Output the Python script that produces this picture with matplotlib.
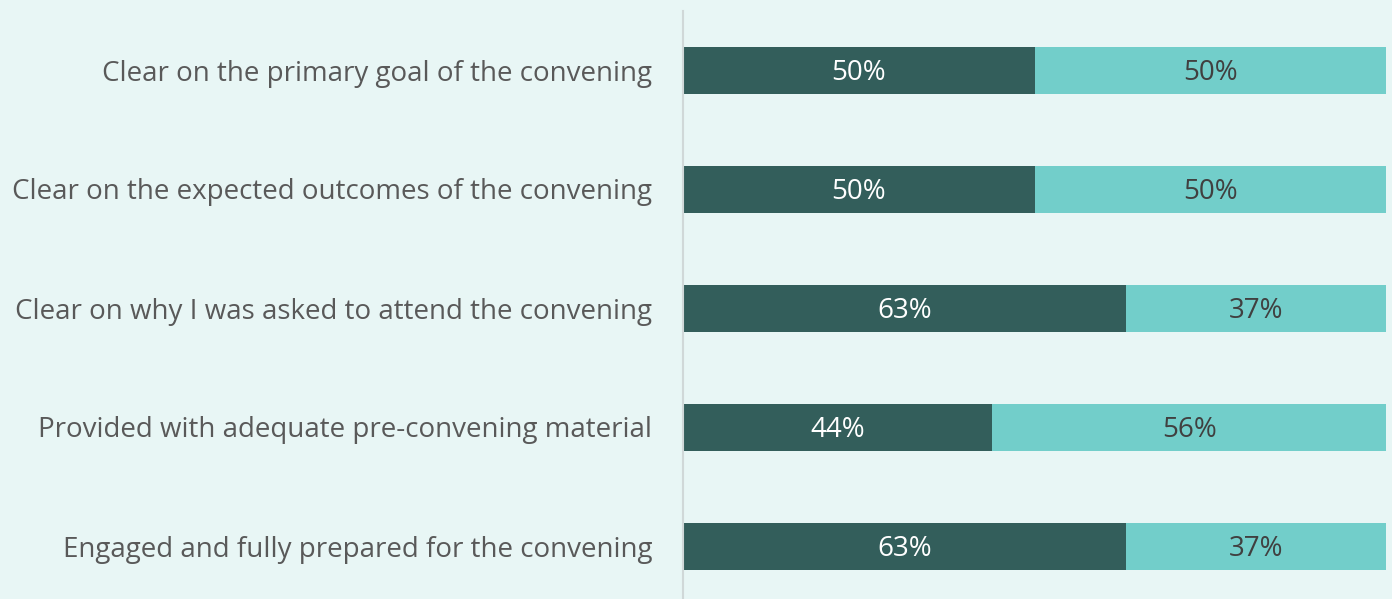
import matplotlib
matplotlib.use("Agg")
import matplotlib.pyplot as plt

categories = [
    "Clear on the primary goal of the convening",
    "Clear on the expected outcomes of the convening",
    "Clear on why I was asked to attend the convening",
    "Provided with adequate pre-convening material",
    "Engaged and fully prepared for the convening",
]
series_dark = [50, 50, 63, 44, 63]
series_light = [50, 50, 37, 56, 37]

BG = "#E8F6F5"
DARK = "#335E5B"
LIGHT = "#72CECA"
TEXT = "#595959"

plt.rcParams['font.family'] = ['Open Sans', 'DejaVu Sans']

fig = plt.figure(figsize=(13.92, 5.99), dpi=100, facecolor=BG)
ax = fig.add_axes([683/1392, (599-605.5)/599, 703/1392, 595/599])
ax.set_facecolor(BG)

y = list(range(len(categories)))
h = 47/119
ax.barh(y, series_dark, height=h, color=DARK, edgecolor='none')
ax.barh(y, series_light, left=series_dark, height=h, color=LIGHT, edgecolor='none')

for i, (d, l) in enumerate(zip(series_dark, series_light)):
    ax.text(d/2, i + 0.025, f"{d}%", ha='center', va='center', color='white', fontsize=20)
    ax.text(d + l/2, i + 0.025, f"{l}%", ha='center', va='center', color='#404040', fontsize=20)

ax.set_xlim(0, 100)
ax.set_ylim(len(categories)-0.5, -0.5)
ax.set_yticks(y)
ax.set_yticklabels(categories, fontsize=20, color=TEXT)
ax.tick_params(axis='y', length=0, pad=22)
ax.set_xticks([])
for s in ['top', 'right', 'bottom']:
    ax.spines[s].set_visible(False)
ax.spines['left'].set_color('#D0D8D8')
ax.spines['left'].set_linewidth(1.5)

fig.savefig("out.png", dpi=100, facecolor=BG)
